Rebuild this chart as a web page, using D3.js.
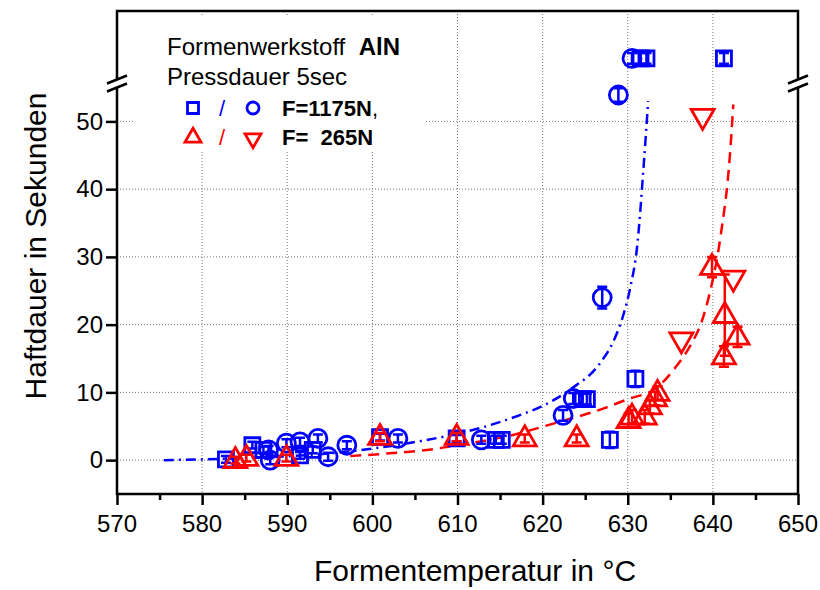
<!DOCTYPE html>
<html>
<head>
<meta charset="utf-8">
<script src="https://cdn.jsdelivr.net/npm/d3@7"></script>
<style>
  body { margin: 0; background: #fff; }
  svg { display: block; font-family: Arial, "Liberation Sans", sans-serif; }
</style>
</head>
<body>
<div id="chart"></div>
<script>
// x: Formentemperatur (°C), y: Haftdauer (s), e: error half-width
const xTicks = [570, 580, 590, 600, 610, 620, 630, 640, 650];
const yTicks = [0, 10, 20, 30, 40, 50];

// values above the axis break are drawn in the band above it
const breakValue = 55.6;
const overValue = 59.3;

// F = 1175N, squares
const sqX = [582.8, 585.9, 587.2, 591.5, 593.0, 600.9, 609.9, 614.5, 615.2, 624.7, 625.2, 627.9, 630.9, 631.5, 632.2, 641.3];
const sqY = [0.1, 2.2, 1.5, 0.7, 1.5, 3.4, 3.2, 3.0, 3.0, 9.0, 9.0, 3.0, 12.0, overValue, overValue, overValue];
const sqE = [0.5, 0.5, 0.5, 0.5, 0.5, 0.5, 0.5, 0.6, 0.6, 0.8, 0.8, 1.2, 1.2, 0.8, 0.8, 0.8];

// F = 1175N, circles
const ciX = [587.8, 588.0, 589.9, 591.5, 593.6, 594.8, 597.0, 603.0, 612.8, 622.4, 623.6, 627.0, 628.9, 630.5];
const ciY = [1.5, 0.0, 2.5, 2.7, 3.2, 0.5, 2.2, 3.2, 3.0, 6.6, 9.1, 24.0, 53.9, overValue];
const ciE = [0.6, 0.6, 0.6, 0.6, 0.6, 0.6, 0.6, 0.6, 0.6, 0.8, 0.8, 1.6, 1.0, 0.8];

// F = 265N, triangles up
const tuX = [583.9, 585.2, 589.9, 600.9, 609.9, 617.9, 624.0, 630.1, 630.5, 632.0, 632.6, 633.2, 633.5, 639.9, 641.4, 641.3, 642.9];
const tuY = [0.0, 0.3, 0.3, 3.4, 3.4, 3.2, 3.2, 5.9, 6.4, 6.4, 7.9, 9.1, 9.9, 28.5, 21.4, 15.3, 18.2];
const tuE = [0.5, 0.5, 0.5, 0.6, 0.6, 0.6, 0.6, 1.0, 1.0, 1.0, 1.0, 1.0, 1.0, 1.5, 6.0, 1.5, 1.5];

// F = 265N, triangles down
const tdX = [636.3, 638.8, 642.4];
const tdY = [17.7, 50.7, 26.8];

// fitted curves
const fitBlueX = [575.5, 585, 595, 600, 605.6, 610, 613.4, 617, 620, 623.2, 626.8, 628.3, 629.5, 630.3, 631.1, 631.9, 632.4];
const fitBlueY = [0.0, 0.3, 1.0, 1.7, 2.8, 3.9, 5.0, 6.5, 8.0, 10.4, 14.4, 17.5, 21.5, 25.5, 31.5, 44.0, 53.0];
const fitRedX = [597.4, 602, 606.4, 610, 615.4, 622.1, 627.1, 630, 633.3, 635.8, 637.3, 638.7, 639.6, 640.9, 642.0, 642.4];
const fitRedY = [0.6, 1.0, 1.5, 2.2, 3.4, 5.7, 7.6, 9.0, 10.6, 14.0, 16.8, 20.5, 24.5, 33.0, 45.0, 52.5];

const blue = '#0000ff';
const red = '#ff0000';

const width = 820, height = 590;
const margin = { top: 11, right: 22, bottom: 96, left: 117 };
const innerW = width - margin.left - margin.right;
const innerH = height - margin.top - margin.bottom;

const svg = d3.select('#chart').append('svg')
  .attr('width', width)
  .attr('height', height);

const x = d3.scaleLinear().domain([570, 650]).range([margin.left, width - margin.right]);
const y = d3.scaleLinear().domain([-5, 66.3]).range([height - margin.bottom, margin.top]);

// grid
const grid = svg.append('g').attr('stroke', '#777').attr('stroke-width', 1).attr('stroke-dasharray', '1,2');
grid.selectAll('line.v')
  .data(xTicks.slice(1, -1))
  .join('line')
  .attr('class', 'v')
  .attr('x1', d => x(d)).attr('x2', d => x(d))
  .attr('y1', y.range()[1]).attr('y2', y.range()[0]);
grid.selectAll('line.h')
  .data(yTicks)
  .join('line')
  .attr('class', 'h')
  .attr('x1', x.range()[0]).attr('x2', x.range()[1])
  .attr('y1', d => y(d)).attr('y2', d => y(d));

// fits
const line = d3.line().curve(d3.curveMonotoneX).x(d => x(d[0])).y(d => y(d[1]));
svg.append('path')
  .datum(d3.zip(fitBlueX, fitBlueY))
  .attr('d', line)
  .attr('fill', 'none').attr('stroke', blue).attr('stroke-width', 2.5)
  .attr('stroke-dasharray', '10,5,2,5');
svg.append('path')
  .datum(d3.zip(fitRedX, fitRedY))
  .attr('d', line)
  .attr('fill', 'none').attr('stroke', red).attr('stroke-width', 2.5)
  .attr('stroke-dasharray', '11,7');

// symbols
function errorBars(g, xs, ys, es, color) {
  const d = d3.range(xs.length).map(i => ({ x: xs[i], y: ys[i], e: es[i] }));
  const eg = g.append('g').attr('stroke', color).attr('stroke-width', 2.5);
  eg.selectAll('path')
    .data(d)
    .join('path')
    .attr('fill', 'none')
    .attr('d', p => {
      const cx = x(p.x), y0 = y(p.y - p.e), y1 = y(p.y + p.e);
      return `M${cx},${y0}V${y1}M${cx - 5},${y0}H${cx + 5}M${cx - 5},${y1}H${cx + 5}`;
    });
}

const shapes = {
  square: s => `M${-s / 2},${-s / 2}h${s}v${s}h${-s}Z`,
  circle: s => `M${s / 2},0A${s / 2},${s / 2} 0 1,1 ${-s / 2},0A${s / 2},${s / 2} 0 1,1 ${s / 2},0Z`,
  up: s => `M0,${-s * 0.55}L${s / 2},${s * 0.32}L${-s / 2},${s * 0.32}Z`,
  down: s => `M0,${s * 0.55}L${s / 2},${-s * 0.32}L${-s / 2},${-s * 0.32}Z`
};

function markers(g, xs, ys, shape, size, color) {
  g.append('g').selectAll('path')
    .data(d3.zip(xs, ys))
    .join('path')
    .attr('transform', d => `translate(${x(d[0])},${y(d[1])})`)
    .attr('d', shapes[shape](size))
    .attr('fill', 'none')
    .attr('stroke', color)
    .attr('stroke-width', 2.8);
}

const marks = svg.append('g');
errorBars(marks, sqX, sqY, sqE, blue);
markers(marks, sqX, sqY, 'square', 15, blue);
errorBars(marks, ciX, ciY, ciE, blue);
markers(marks, ciX, ciY, 'circle', 18, blue);
errorBars(marks, tuX, tuY, tuE, red);
markers(marks, tuX, tuY, 'up', 23, red);
markers(marks, tdX, tdY, 'down', 23, red);

// axes
svg.append('rect')
  .attr('x', margin.left).attr('y', margin.top)
  .attr('width', innerW).attr('height', innerH)
  .attr('fill', 'none').attr('stroke', '#000').attr('stroke-width', 2.5);

const xAxis = svg.append('g')
  .attr('transform', `translate(0,${height - margin.bottom})`)
  .call(d3.axisBottom(x).tickValues(d3.range(570, 651, 5)).tickSize(0).tickFormat(''));
xAxis.select('.domain').remove();
xAxis.selectAll('.tick line')
  .attr('y2', d => d % 10 === 0 ? 11 : 6)
  .attr('stroke', '#000').attr('stroke-width', 2.5);

svg.selectAll('text.xt')
  .data(xTicks)
  .join('text')
  .attr('class', 'xt')
  .attr('x', d => x(d))
  .attr('y', height - margin.bottom + 38)
  .attr('text-anchor', 'middle')
  .attr('font-size', 24)
  .text(d => d);

const yAxis = svg.append('g')
  .attr('transform', `translate(${margin.left},0)`)
  .call(d3.axisLeft(y).tickValues(yTicks).tickSize(11).tickPadding(3));
yAxis.select('.domain').remove();
yAxis.selectAll('.tick line').attr('stroke', '#000').attr('stroke-width', 2.5);
yAxis.selectAll('.tick text').attr('font-size', 24).attr('fill', '#000').attr('font-family', null);

// axis break
[x.range()[0], x.range()[1]].forEach(bx => {
  const by = y(breakValue);
  svg.append('rect')
    .attr('x', bx - 3).attr('y', by - 4)
    .attr('width', 6).attr('height', 8)
    .attr('fill', '#fff');
  svg.append('path')
    .attr('d', `M${bx - 10},${by}l20,-8M${bx - 10},${by + 8}l20,-8`)
    .attr('stroke', '#000').attr('stroke-width', 2.5).attr('fill', 'none');
});

// titles
svg.append('text')
  .attr('x', 475)
  .attr('y', 581)
  .attr('text-anchor', 'middle')
  .attr('font-size', 30)
  .text('Formentemperatur in °C');

svg.append('text')
  .attr('transform', `translate(46,${246}) rotate(-90)`)
  .attr('text-anchor', 'middle')
  .attr('font-size', 30)
  .text('Haftdauer in Sekunden');

// legend
const lg = svg.append('g');
lg.append('rect')
  .attr('x', 133).attr('y', 15)
  .attr('width', 292).attr('height', 137)
  .attr('fill', '#fff');

const t1 = lg.append('text').attr('x', 167).attr('y', 55).attr('font-size', 24).style('white-space', 'pre');
t1.append('tspan').text('Formenwerkstoff  ');
t1.append('tspan').attr('font-weight', 'bold').text('AlN');
lg.append('text').attr('x', 167).attr('y', 85).attr('font-size', 24).text('Pressdauer 5sec');

const legendRows = [
  { y: 108, color: blue, a: 'square', b: 'circle', sa: 11, sb: 12, label: 'F=1175N', tail: ',' },
  { y: 137, color: red, a: 'up', b: 'down', sa: 16, sb: 16, label: 'F=  265N', tail: '' }
];
legendRows.forEach(r => {
  lg.append('path')
    .attr('transform', `translate(193,${r.y})`)
    .attr('d', shapes[r.a](r.sa))
    .attr('fill', 'none').attr('stroke', r.color).attr('stroke-width', 2.8);
  lg.append('text')
    .attr('x', 222).attr('y', r.y + 8)
    .attr('text-anchor', 'middle')
    .attr('font-size', 22).attr('fill', r.color)
    .text('/');
  lg.append('path')
    .attr('transform', `translate(253,${r.y + (r.b === 'down' ? 2 : 0)})`)
    .attr('d', shapes[r.b](r.sb))
    .attr('fill', 'none').attr('stroke', r.color).attr('stroke-width', 2.8);
  const t = lg.append('text').attr('x', 282).attr('y', r.y + 8).attr('font-size', 22).style('white-space', 'pre');
  t.append('tspan').attr('font-weight', 'bold').text(r.label);
  t.append('tspan').text(r.tail);
});
</script>
</body>
</html>
